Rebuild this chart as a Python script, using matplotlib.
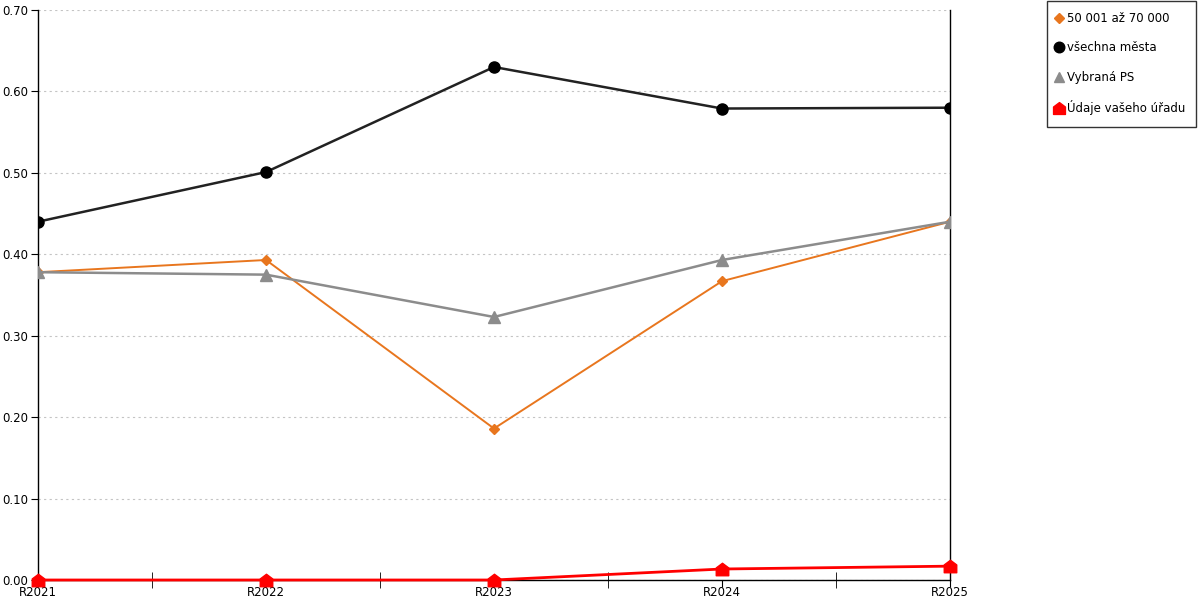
import matplotlib
matplotlib.use("Agg")
import matplotlib.pyplot as plt
from matplotlib.path import Path
from matplotlib.ticker import MultipleLocator, FixedLocator

plt.rcParams['font.family'] = ['DejaVu Sans']

categories = ["R2021", "R2022", "R2023", "R2024", "R2025"]
skupina = [0.378, 0.393, 0.186, 0.367, 0.440]
vsechna = [0.440, 0.501, 0.630, 0.579, 0.580]
vybrana = [0.378, 0.375, 0.323, 0.393, 0.440]
urad = [0.0, 0.0, 0.0, 0.0135, 0.017]

labels = ["50 001 až 70 000", "všechna města", "Vybraná PS", "Údaje vašeho úřadu"]

# house shaped marker for the office series
house = Path([(-1, -1), (1, -1), (1, 0.25), (0, 1), (-1, 0.25), (-1, -1)],
             [Path.MOVETO, Path.LINETO, Path.LINETO, Path.LINETO, Path.LINETO, Path.CLOSEPOLY])

fig = plt.figure(figsize=(12, 6), dpi=100)
ax = fig.add_axes([38/1200, 20/600, (950-38)/1200, 570/600])

x = list(range(len(categories)))
h1, = ax.plot(x, skupina, color="#e8761e", lw=1.4, marker="D", ms=5.5, label=labels[0], zorder=4)
h2, = ax.plot(x, vsechna, color="#222222", lw=1.8, marker="o", ms=8, mfc="black", mec="black", label=labels[1], zorder=3)
h3, = ax.plot(x, vybrana, color="#8c8c8c", lw=1.8, marker="^", ms=8, label=labels[2], zorder=5)
h4, = ax.plot(x, urad, color="#ff0000", lw=2, marker=house, ms=9, label=labels[3], zorder=6, clip_on=False)

ax.set_xlim(0, len(categories) - 1)
ax.set_ylim(0, 0.7)
ax.yaxis.set_major_locator(MultipleLocator(0.1))
ax.yaxis.set_major_formatter(matplotlib.ticker.FormatStrFormatter("%.2f"))
ax.set_xticks(x)
ax.set_xticklabels(categories)
ax.xaxis.set_minor_locator(FixedLocator([i + 0.5 for i in x[:-1]]))

ax.grid(axis="y", color="#c4c4c4", ls=(0, (2, 3)), lw=0.8)
ax.set_axisbelow(True)
ax.spines["top"].set_visible(False)
for s in ["left", "right", "bottom"]:
    ax.spines[s].set_color("black")
    ax.spines[s].set_linewidth(1)

ax.tick_params(axis="y", direction="out", length=5, labelsize=8.5, pad=2)
ax.tick_params(axis="x", which="major", direction="out", length=5, labelsize=8.5, pad=-1)
ax.tick_params(axis="x", which="minor", direction="inout", length=12)

leg = fig.legend(handles=[h1, h2, h3, h4], loc="upper right",
                 bbox_to_anchor=(1197/1200, 1.0), frameon=True, fancybox=False,
                 edgecolor="black", fontsize=8.5, handlelength=0.1, handleheight=0.7,
                 handletextpad=0.65, labelspacing=1.4, borderpad=0.95,
                 borderaxespad=0.05, markerscale=0.95)
for line in leg.get_lines():
    line.set_linestyle("")
leg.get_frame().set_linewidth(1)

fig.savefig("out.png", dpi=100)
